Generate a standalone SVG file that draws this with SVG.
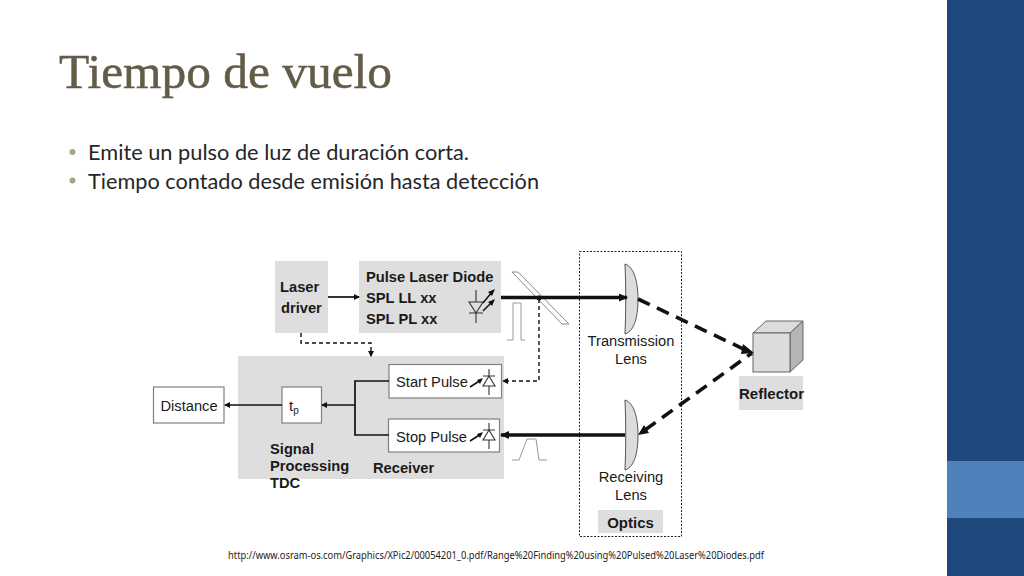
<svg xmlns="http://www.w3.org/2000/svg" width="1024" height="576" viewBox="0 0 1024 576">
<style>
.a{font-family:"Liberation Sans",Arial,sans-serif;fill:#1a1a1a}
.b{font-weight:bold}
.s14{font-size:14.7px}
.c{font-family:"Lato","Open Sans",sans-serif;font-size:22px;fill:#262626}
.g{fill:#dedede}
.w{fill:#fff;stroke:#808080;stroke-width:1.2}
.l{fill:none;stroke:#111;stroke-width:1.7}
.t{fill:none;stroke:#111;stroke-width:3.4}
.d{fill:none;stroke:#111;stroke-width:1.4;stroke-dasharray:4 3}
.dd{fill:none;stroke:#111;stroke-width:3.6;stroke-dasharray:13 8}
.thin{fill:none;stroke:#999;stroke-width:1}
.lens{fill:#dcdcdc;stroke:#555;stroke-width:1}
.k{fill:none;stroke:#333;stroke-width:1.1}
</style>
<defs>
<marker id="m" markerWidth="7" markerHeight="7" refX="5" refY="3" orient="auto" markerUnits="userSpaceOnUse"><path d="M0 0L6 3L0 6z" fill="#111"/></marker>
<marker id="mb" markerWidth="10" markerHeight="10" refX="8" refY="4" orient="auto" markerUnits="userSpaceOnUse"><path d="M0 0L9 4L0 8z" fill="#111"/></marker>
<g id="diode-up"><path class="k" d="M0 -12V-5M-6 -5H6M0 -5L-6 5H6z M0 5V14"/><path d="M-19 6L-8 -1" stroke="#111" stroke-width="1.5"/><path d="M-6 -3L-12 -1L-9 3z" fill="#111"/></g>
</defs>
<rect width="1024" height="576" fill="#fff"/>
<g id="sidebar"><rect x="947" width="77" height="576" fill="#1f497d"/><rect x="947" y="461" width="77" height="57" fill="#4f81bd"/></g>
<text x="59" y="88" font-family="'Liberation Serif','Noto Serif',serif" font-size="48" fill="#625c48" stroke="#625c48" stroke-width="0.5" textLength="333" lengthAdjust="spacingAndGlyphs">Tiempo de vuelo</text>
<g id="bullets">
<circle cx="72.500" cy="152" r="3" fill="#a9a58c"/><circle cx="72.500" cy="180.500" r="3" fill="#a9a58c"/>
<text class="c" x="88" y="160" textLength="381" lengthAdjust="spacingAndGlyphs">Emite un pulso de luz de duración corta.</text>
<text class="c" x="88" y="188.500" textLength="451" lengthAdjust="spacingAndGlyphs">Tiempo contado desde emisión hasta detección</text>
</g>
<g id="optics"><rect x="579.500" y="251.500" width="102" height="285" fill="none" stroke="#222" stroke-width="1" stroke-dasharray="2 1.500"/><rect x="598" y="510" width="65" height="23" class="g"/><text class="a b" x="630.500" y="528" font-size="15" text-anchor="middle">Optics</text></g>
<g id="laser-driver"><rect x="275" y="261" width="53" height="72" class="g"/><text class="a b s14" x="280" y="292">Laser</text><text class="a b s14" x="281" y="313">driver</text></g>
<g id="pulse-laser-diode"><rect x="359" y="261" width="142" height="72" class="g"/><text class="a b s14" x="366" y="282">Pulse Laser Diode</text><text class="a b s14" x="366" y="303">SPL LL xx</text><text class="a b s14" x="366" y="324">SPL PL xx</text>
<path class="k" d="M476 290V302M469 302H483M476 313L469 302H483zM476 313V323M469 313H483"/><path d="M483 303L492 292M483 311L492 302" stroke="#111" stroke-width="1.500"/><path d="M495 289L488 292L492 296zM495 299L488 302L492 306z" fill="#111"/></g>
<g id="receiver-block"><rect x="238" y="356" width="266" height="123" class="g"/><text class="a b s14" x="270" y="454">Signal</text><text class="a b s14" x="270" y="471">Processing</text><text class="a b s14" x="270" y="488">TDC</text><text class="a b s14" x="373" y="473">Receiver</text></g>
<g id="start-pulse"><rect x="389" y="364.500" width="112.500" height="33.500" class="w"/><text class="a s14" x="396" y="387">Start Pulse</text><use href="#diode-up" x="489" y="381"/></g>
<g id="stop-pulse"><rect x="388.500" y="419" width="111" height="33" class="w"/><text class="a s14" x="396" y="442">Stop Pulse</text><use href="#diode-up" x="489" y="435"/></g>
<g id="tp"><rect x="282" y="387" width="39.500" height="36" class="w"/><text class="a" x="289" y="411" font-size="15">t<tspan font-size="10" dy="3">p</tspan></text></g>
<g id="distance"><rect x="153.500" y="387" width="70.500" height="36" class="w"/><text class="a s14" x="189" y="411" text-anchor="middle">Distance</text></g>
<g id="reflector"><path d="M753 333L766 321H803L790 333z" fill="#dcdcdc" stroke="#666"/><path d="M790 333L803 321V360L790 372z" fill="#b5b5b5" stroke="#666"/><rect x="753" y="333" width="37" height="39" fill="#dcdcdc" stroke="#666"/><rect x="739" y="376" width="64" height="34" class="g"/><text class="a b" x="771.500" y="399" font-size="15" text-anchor="middle">Reflector</text></g>
<g id="transmission-lens"><path class="lens" d="M625 264C635 267 638 285 638 299C638 315 635 331 625 334C626 310 626 288 625 264z"/><text class="a s14" x="631" y="346" text-anchor="middle">Transmission</text><text class="a s14" x="631" y="364" text-anchor="middle">Lens</text></g>
<g id="receiving-lens"><path class="lens" d="M625 400C635 403 638 421 638 435C638 451 635 467 625 470C626 446 626 424 625 400z"/><text class="a s14" x="631" y="482" text-anchor="middle">Receiving</text><text class="a s14" x="631" y="500" text-anchor="middle">Lens</text></g>
<g id="beam-splitter"><path d="M512 272L518 272L569 324L562 324z" fill="#fff" stroke="#888"/></g>
<g id="pulses"><path class="thin" d="M507 340H513V303H521V340H525"/><path class="thin" d="M512 460H519L527 439H536L539 460H547"/></g>
<g id="connectors">
<path class="l" d="M328 297H359" marker-end="url(#m)"/>
<path class="t" d="M501 297.500H627" marker-end="url(#mb)"/>
<path class="d" d="M301 333V343H371V356" marker-end="url(#m)"/>
<path class="d" d="M539 299V381H503" marker-end="url(#m)"/>
<circle cx="539" cy="298" r="2.500" fill="#111"/>
<path class="t" d="M625 435H501" marker-end="url(#mb)"/>
<path class="l" d="M389 381H355V435H389"/>
<path class="l" d="M355 405H322" marker-end="url(#m)"/>
<path class="l" d="M282 405H225" marker-end="url(#m)"/>
<path class="dd" d="M638 299L752 353"/>
<path class="dd" d="M645 430L752 353"/>
<path d="M743 344L754 353L741 354zM638 435L644 425L649 433z" fill="#111"/>
</g>
<text x="228" y="559" font-family="'Noto Sans','Open Sans',sans-serif" font-size="10" fill="#222" textLength="536" lengthAdjust="spacingAndGlyphs">http://www.osram-os.com/Graphics/XPic2/00054201_0.pdf/Range%20Finding%20using%20Pulsed%20Laser%20Diodes.pdf</text>
</svg>
